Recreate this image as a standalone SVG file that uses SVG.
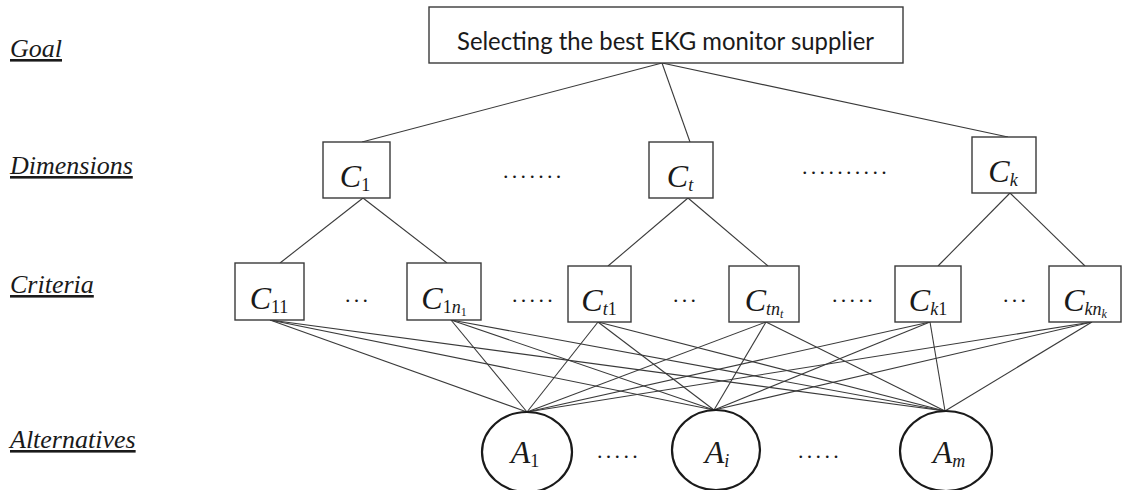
<svg xmlns="http://www.w3.org/2000/svg" width="1123" height="490" viewBox="0 0 1123 490">
<style>
.lbl{font-family:"Liberation Serif","Times New Roman",serif;font-style:italic;font-size:26px;fill:#1a1a1a;text-decoration:underline}
.box{fill:#fff;stroke:#3a3a3a;stroke-width:1.4}
.alt{fill:#fff;stroke:#1a1a1a;stroke-width:2.2}
.goal{font-family:Lato,"Liberation Sans",Arial,sans-serif;font-size:25px;fill:#1a1a1a}
.m{font-family:"Liberation Serif","Times New Roman",serif;font-size:32px;fill:#1a1a1a}
.i{font-style:italic}
.s{font-size:18px}
.ss{font-size:12px}
.dots{font-family:"Liberation Serif","Times New Roman",serif;font-size:22px;fill:#1a1a1a;letter-spacing:3.3px}
.c line{stroke:#3a3a3a;stroke-width:1.1}
</style>
<rect width="1123" height="490" fill="#fff"/>
<g id="levels">
<text class="lbl" x="10" y="57">Goal</text>
<text class="lbl" x="10" y="174">Dimensions</text>
<text class="lbl" x="10" y="293">Criteria</text>
<text class="lbl" x="10" y="448">Alternatives</text>
</g>
<g class="c" id="connectors">
<line x1="662" y1="63" x2="362" y2="142"/>
<line x1="662" y1="63" x2="690" y2="142"/>
<line x1="662" y1="63" x2="1008" y2="137"/>
<line x1="363" y1="198" x2="280" y2="263"/>
<line x1="363" y1="198" x2="447" y2="263"/>
<line x1="688" y1="198" x2="608" y2="266"/>
<line x1="688" y1="198" x2="768" y2="266"/>
<line x1="1010" y1="193" x2="938" y2="266"/>
<line x1="1010" y1="193" x2="1085" y2="266"/>
<line x1="270" y1="320" x2="527" y2="412"/>
<line x1="270" y1="320" x2="714" y2="410"/>
<line x1="270" y1="320" x2="945" y2="411"/>
<line x1="451" y1="320" x2="527" y2="412"/>
<line x1="451" y1="320" x2="714" y2="410"/>
<line x1="451" y1="320" x2="945" y2="411"/>
<line x1="598" y1="322" x2="527" y2="412"/>
<line x1="598" y1="322" x2="714" y2="410"/>
<line x1="598" y1="322" x2="945" y2="411"/>
<line x1="766" y1="322" x2="527" y2="412"/>
<line x1="766" y1="322" x2="714" y2="410"/>
<line x1="766" y1="322" x2="945" y2="411"/>
<line x1="930" y1="322" x2="527" y2="412"/>
<line x1="930" y1="322" x2="714" y2="410"/>
<line x1="930" y1="322" x2="945" y2="411"/>
<line x1="1092" y1="322" x2="527" y2="412"/>
<line x1="1092" y1="322" x2="714" y2="410"/>
<line x1="1092" y1="322" x2="945" y2="411"/>
</g>
<g id="goal">
<rect class="box" x="429" y="7" width="474" height="56"/>
<text class="goal" x="457" y="50" textLength="417" lengthAdjust="spacingAndGlyphs">Selecting the best EKG monitor supplier</text>
</g>
<g id="dim-c1">
<rect class="box" x="323" y="142" width="67" height="56"/>
<text class="m" x="355" y="187" text-anchor="middle"><tspan class="i">C</tspan><tspan class="s" dy="4">1</tspan></text>
</g>
<g id="dim-ct">
<rect class="box" x="649" y="142" width="64" height="56"/>
<text class="m" x="680" y="187" text-anchor="middle"><tspan class="i">C</tspan><tspan class="s i" dy="4">t</tspan></text>
</g>
<g id="dim-ck">
<rect class="box" x="972" y="137" width="64" height="56"/>
<text class="m" x="1003" y="182" text-anchor="middle"><tspan class="i">C</tspan><tspan class="s i" dy="4">k</tspan></text>
</g>
<g id="dots-dim">
<text class="dots" x="503" y="178">.......</text>
<text class="dots" x="802" y="174">..........</text>
</g>
<g id="crit-c11">
<rect class="box" x="235" y="263" width="69" height="57"/>
<text class="m" x="269" y="309" text-anchor="middle"><tspan class="i">C</tspan><tspan class="s" dy="4">11</tspan></text>
</g>
<g id="crit-c1n1">
<rect class="box" x="407" y="263" width="74" height="57"/>
<text class="m" x="444" y="309" text-anchor="middle"><tspan class="i">C</tspan><tspan class="s" dy="4">1</tspan><tspan class="s i">n</tspan><tspan class="ss" dy="3">1</tspan></text>
</g>
<g id="crit-ct1">
<rect class="box" x="568" y="266" width="63" height="56"/>
<text class="m" x="599" y="311" text-anchor="middle"><tspan class="i">C</tspan><tspan class="s i" dy="4">t</tspan><tspan class="s">1</tspan></text>
</g>
<g id="crit-ctnt">
<rect class="box" x="729" y="266" width="70" height="56"/>
<text class="m" x="764" y="311" text-anchor="middle"><tspan class="i">C</tspan><tspan class="s i" dy="4">tn</tspan><tspan class="ss i" dy="3">t</tspan></text>
</g>
<g id="crit-ck1">
<rect class="box" x="895" y="266" width="66" height="56"/>
<text class="m" x="928" y="311" text-anchor="middle"><tspan class="i">C</tspan><tspan class="s i" dy="4">k</tspan><tspan class="s">1</tspan></text>
</g>
<g id="crit-cknk">
<rect class="box" x="1049" y="266" width="72" height="56"/>
<text class="m" x="1085" y="311" text-anchor="middle"><tspan class="i">C</tspan><tspan class="s i" dy="4">kn</tspan><tspan class="ss i" dy="3">k</tspan></text>
</g>
<g id="dots-crit">
<text class="dots" x="345" y="302">...</text>
<text class="dots" x="512" y="302">.....</text>
<text class="dots" x="673" y="302">...</text>
<text class="dots" x="832" y="302">.....</text>
<text class="dots" x="1003" y="302">...</text>
</g>
<g id="alt-a1">
<ellipse class="alt" cx="527" cy="452" rx="45" ry="40"/>
<text class="m" x="525" y="463" text-anchor="middle"><tspan class="i">A</tspan><tspan class="s" dy="4">1</tspan></text>
</g>
<g id="alt-ai">
<ellipse class="alt" cx="716" cy="450" rx="44" ry="40"/>
<text class="m" x="717" y="463" text-anchor="middle"><tspan class="i">A</tspan><tspan class="s i" dy="4">i</tspan></text>
</g>
<g id="alt-am">
<ellipse class="alt" cx="946" cy="451" rx="46" ry="40"/>
<text class="m" x="949" y="463" text-anchor="middle"><tspan class="i">A</tspan><tspan class="s i" dy="4">m</tspan></text>
</g>
<g id="dots-alt">
<text class="dots" x="597" y="458">.....</text>
<text class="dots" x="798" y="458">.....</text>
</g>
</svg>
